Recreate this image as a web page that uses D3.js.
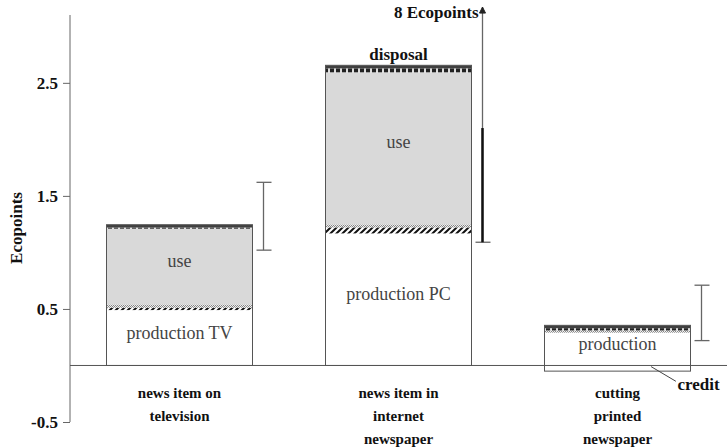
<!DOCTYPE html>
<html>
<head>
<meta charset="utf-8">
<script src="https://cdn.jsdelivr.net/npm/d3@7"></script>
<style>
  body { margin: 0; background: #fff; }
  svg, svg text { font-family: "Liberation Serif", "DejaVu Serif", serif !important; }
</style>
</head>
<body>
<script>
// categories (each label split in lines)
var categories = ["tv", "internet", "printed"];
var catLines = [
  ["news item on", "television"],
  ["news item in", "internet", "newspaper"],
  ["cutting", "printed", "newspaper"]
];

// stacked layers, bottom to top (Ecopoints)
var production  = [0.49, 1.168, 0.29];
var transport   = [0.02, 0.053, 0];
var electronics = [0.03, 0.027, 0.02];
var use         = [0.67, 1.345, 0];
var packaging   = [0.01, 0.035, 0.02];
var disposal    = [0.025, 0.027, 0.025];
var credit      = [0, 0, -0.05];

var prodLabels = ["production TV", "production PC", "production"];

// uncertainty ranges
var errLow   = [1.02, 1.09, 0.22];
var errHigh  = [1.62, 8, 0.71];
var errThick = [null, 2.1, null];

var yTicks = [-0.5, 0.5, 1.5, 2.5];

var width = 727, height = 448;

var svg = d3.select("body").append("svg")
  .attr("width", width).attr("height", height);

var defs = svg.append("defs");

// diagonal hatch
var p1 = defs.append("pattern").attr("id", "hatch")
  .attr("patternUnits", "userSpaceOnUse").attr("width", 6).attr("height", 6);
p1.append("rect").attr("width", 6).attr("height", 6).attr("fill", "#fff");
p1.append("path").attr("d", "M0,6 L6,0 M-1,1 L1,-1 M5,7 L7,5")
  .attr("stroke", "#111").attr("stroke-width", 2);

// light dotted
var p2 = defs.append("pattern").attr("id", "dots")
  .attr("patternUnits", "userSpaceOnUse").attr("width", 2).attr("height", 2);
p2.append("rect").attr("width", 2).attr("height", 2).attr("fill", "#eee");
p2.append("rect").attr("width", 1).attr("height", 1).attr("fill", "#888");
p2.append("rect").attr("x", 1).attr("y", 1).attr("width", 1).attr("height", 1).attr("fill", "#888");

// dark dashes
var p3 = defs.append("pattern").attr("id", "dashes")
  .attr("patternUnits", "userSpaceOnUse").attr("width", 6).attr("height", 4);
p3.append("rect").attr("width", 6).attr("height", 4).attr("fill", "#ddd");
p3.append("rect").attr("width", 4).attr("height", 4).attr("fill", "#222");

var x = d3.scaleBand().domain(categories).range([70, 727])
  .paddingInner(1/3).paddingOuter(1/6);

var y = d3.scaleLinear().domain([-0.5, 3.1]).range([422, 15]);

// y axis
var yAxis = svg.append("g")
  .attr("transform", "translate(70,0)")
  .call(d3.axisLeft(y).tickValues(yTicks).tickSize(7).tickPadding(5)
    .tickFormat(d => d.toFixed(1)));
yAxis.attr("font-family", null);
yAxis.select(".domain").attr("d", "M0," + y(3.1) + "V" + y(-0.5)).attr("stroke", "#666");
yAxis.selectAll(".tick line").attr("stroke", "#666");
yAxis.selectAll(".tick text")
  .attr("font-size", 17).attr("font-weight", "bold").attr("fill", "#111");

svg.append("text")
  .attr("transform", "translate(22," + 228 + ") rotate(-90)")
  .attr("text-anchor", "middle")
  .attr("font-size", 17).attr("font-weight", "bold").attr("fill", "#111")
  .text("Ecopoints");

// stacked bars
var layers = [
  {vals: production, fill: "#fff"},
  {vals: transport, fill: "url(#hatch)"},
  {vals: electronics, fill: "url(#dots)"},
  {vals: use, fill: "#d9d9d9"},
  {vals: packaging, fill: "url(#dashes)"},
  {vals: disposal, fill: "#404040"}
];

var bars = svg.append("g");
categories.forEach(function(c, i) {
  var base = 0;
  layers.forEach(function(l) {
    var v = l.vals[i];
    if (v > 0) {
      bars.append("rect")
        .attr("x", x(c)).attr("width", x.bandwidth())
        .attr("y", y(base + v)).attr("height", y(base) - y(base + v))
        .attr("fill", l.fill);
    }
    base += v;
  });
  // credit below zero
  if (credit[i] < 0) {
    bars.append("rect")
      .attr("x", x(c)).attr("width", x.bandwidth())
      .attr("y", y(0)).attr("height", y(credit[i]) - y(0))
      .attr("fill", "#fff");
  }
  // outline
  bars.append("rect")
    .attr("x", x(c)).attr("width", x.bandwidth())
    .attr("y", y(base)).attr("height", y(credit[i]) - y(base))
    .attr("fill", "none").attr("stroke", "#555").attr("stroke-width", 1);

  // labels in bars
  var cx = x(c) + x.bandwidth() / 2;
  bars.append("text")
    .attr("x", cx).attr("y", y(production[i] / 2) + 1)
    .attr("text-anchor", "middle").attr("font-size", 18).attr("fill", "#444")
    .text(prodLabels[i]);
  if (use[i] > 0) {
    var u0 = production[i] + transport[i] + electronics[i];
    bars.append("text")
      .attr("x", cx).attr("y", y(u0 + use[i] / 2))
      .attr("text-anchor", "middle").attr("font-size", 18).attr("fill", "#444")
      .text("use");
  }
  if (i === 1) {
    svg.append("text")
      .attr("x", cx).attr("y", y(base) - 5)
      .attr("text-anchor", "middle").attr("font-size", 17)
      .attr("font-weight", "bold").attr("fill", "#111")
      .text("disposal");
  }
});

// zero line
svg.append("line")
  .attr("x1", 70).attr("x2", 727).attr("y1", y(0)).attr("y2", y(0))
  .attr("stroke", "#555");

// error bars
var err = svg.append("g").attr("stroke", "#666").attr("fill", "none");
categories.forEach(function(c, i) {
  var ex = x(c) + x.bandwidth() + 11;
  var top = Math.min(errHigh[i], 3.17);
  err.append("line").attr("x1", ex).attr("x2", ex)
    .attr("y1", y(errLow[i])).attr("y2", y(top)).attr("stroke-width", 1.3);
  err.append("line").attr("x1", ex - 7).attr("x2", ex + 8)
    .attr("y1", y(errLow[i])).attr("y2", y(errLow[i])).attr("stroke-width", 1.3);
  if (errHigh[i] <= 3.1) {
    err.append("line").attr("x1", ex - 7).attr("x2", ex + 8)
      .attr("y1", y(errHigh[i])).attr("y2", y(errHigh[i])).attr("stroke-width", 1.3);
  } else {
    err.append("path")
      .attr("d", "M" + (ex - 3) + "," + (y(top) + 6) + "L" + ex + "," + y(top) + "L" + (ex + 3) + "," + (y(top) + 6) + "Z")
      .attr("fill", "#222").attr("stroke", "#222");
    svg.append("text")
      .attr("x", ex - 4).attr("y", y(top) + 11)
      .attr("text-anchor", "end").attr("font-size", 17)
      .attr("font-weight", "bold").attr("fill", "#111")
      .text(errHigh[i] + " Ecopoints");
  }
  if (errThick[i] != null) {
    err.append("line").attr("x1", ex).attr("x2", ex)
      .attr("y1", y(errLow[i])).attr("y2", y(errThick[i]))
      .attr("stroke", "#111").attr("stroke-width", 2.5);
  }
});

// credit leader
var c3 = categories[2];
svg.append("line")
  .attr("x1", x(c3) + x.bandwidth() * 0.73).attr("y1", y(-0.01))
  .attr("x2", x(c3) + x.bandwidth() * 0.9).attr("y2", y(-0.14))
  .attr("stroke", "#444");
svg.append("text")
  .attr("x", x(c3) + x.bandwidth() - 13).attr("y", y(-0.22))
  .attr("font-size", 17).attr("font-weight", "bold").attr("fill", "#111")
  .text("credit");

// category labels
categories.forEach(function(c, i) {
  var t = svg.append("text")
    .attr("text-anchor", "middle").attr("font-size", 15)
    .attr("font-weight", "bold").attr("fill", "#111");
  catLines[i].forEach(function(s, j) {
    t.append("tspan").attr("x", x(c) + x.bandwidth() / 2)
      .attr("y", 398 + j * 23).text(s);
  });
});
</script>
</body>
</html>
